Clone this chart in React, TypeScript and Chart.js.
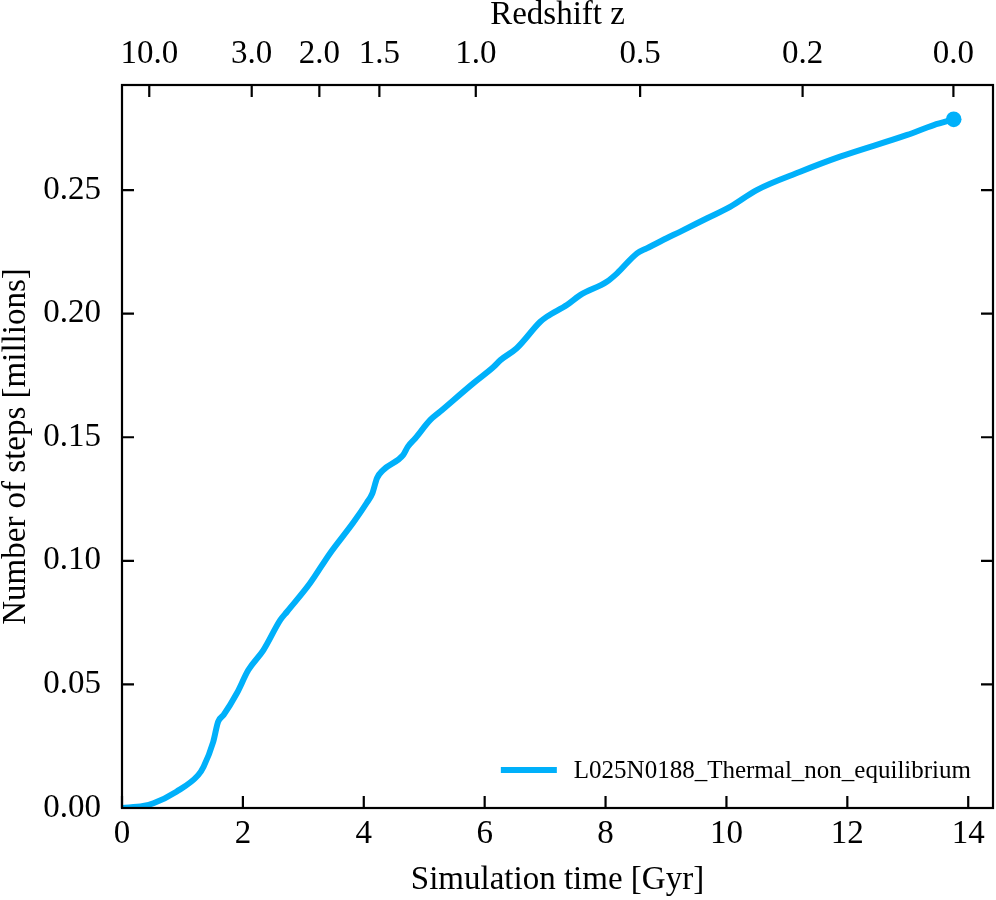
import React, { useEffect, useRef } from "react";
import { Chart, registerables } from "chart.js";

Chart.register(...registerables);

const timeGyr = [0, 0.35, 0.52, 0.9, 1.26, 1.35, 1.51, 1.59, 1.68, 1.9, 2.09, 2.34, 2.62, 2.73, 3.11, 3.44, 3.83, 4.05, 4.14, 4.22, 4.32, 4.65, 4.73, 4.85, 5.1, 5.26, 5.81, 6.15, 6.26, 6.53, 6.92, 7.03, 7.36, 7.58, 8.02, 8.19, 8.52, 8.68, 9.01, 9.23, 9.68, 10.06, 10.5, 11.22, 11.88, 12.99, 13.43, 13.76];
const stepsMillions = [0, 0.0008, 0.0019, 0.0066, 0.0133, 0.0167, 0.0268, 0.0349, 0.0376, 0.0464, 0.0558, 0.0639, 0.0761, 0.0794, 0.0909, 0.103, 0.1156, 0.1235, 0.1272, 0.1335, 0.1367, 0.1428, 0.1462, 0.1495, 0.157, 0.1603, 0.1718, 0.1785, 0.1812, 0.186, 0.1967, 0.1988, 0.2035, 0.2075, 0.2129, 0.2163, 0.2244, 0.2264, 0.2305, 0.2331, 0.2386, 0.2432, 0.25, 0.2574, 0.2635, 0.2723, 0.2763, 0.2786];

const redshiftLabels = ["10.0", "3.0", "2.0", "1.5", "1.0", "0.5", "0.2", "0.0"];
const redshiftAges = [0.451, 2.146, 3.265, 4.258, 5.853, 8.572, 11.26, 13.755];

const seriesLabel = "L025N0188_Thermal_non_equilibrium";
const lineColor = "#00B0FA";
const FONT = "'Liberation Serif', 'Times New Roman', serif";
const FS = 33;

const inwardTicks = {
  id: "inwardTicks",
  afterDatasetsDraw(chart: any) {
    const { ctx, chartArea } = chart;
    const { left, right, top, bottom } = chartArea;
    const len = 12;
    ctx.save();
    ctx.strokeStyle = "#000";
    ctx.lineWidth = 2.2;
    ctx.lineCap = "butt";
    const xs = chart.scales.x;
    xs.ticks.forEach((t: any) => {
      const px = xs.getPixelForValue(t.value);
      ctx.beginPath();
      ctx.moveTo(px, bottom);
      ctx.lineTo(px, bottom - len);
      ctx.stroke();
    });
    const x2 = chart.scales.x2;
    x2.ticks.forEach((t: any) => {
      const px = x2.getPixelForValue(t.value);
      ctx.beginPath();
      ctx.moveTo(px, top);
      ctx.lineTo(px, top + len);
      ctx.stroke();
    });
    const ys = chart.scales.y;
    ys.ticks.forEach((t: any) => {
      const py = ys.getPixelForValue(t.value);
      ctx.beginPath();
      ctx.moveTo(left, py);
      ctx.lineTo(left + len, py);
      ctx.moveTo(right, py);
      ctx.lineTo(right - len, py);
      ctx.stroke();
    });
    ctx.strokeRect(left, top, right - left, bottom - top);
    ctx.restore();
  },
};

const customLegend = {
  id: "customLegend",
  afterDraw(chart: any) {
    const { ctx, chartArea } = chart;
    const ds = chart.data.datasets[0];
    ctx.save();
    ctx.font = `25px ${FONT}`;
    ctx.fillStyle = "#000";
    ctx.textBaseline = "middle";
    const tw = ctx.measureText(ds.label).width;
    const textX = chartArea.right - 22 - tw;
    const y = chartArea.bottom - 37;
    ctx.fillText(ds.label, textX, y);
    ctx.strokeStyle = ds.borderColor;
    ctx.lineWidth = 6;
    ctx.beginPath();
    ctx.moveTo(textX - 73, y - 1);
    ctx.lineTo(textX - 17, y - 1);
    ctx.stroke();
    ctx.restore();
  },
};

const noPadH = (h: number) => (s: any) => {
  s.height = h;
  s.paddingLeft = 0;
  s.paddingRight = 0;
};

export default function App() {
  const ref = useRef<HTMLCanvasElement>(null);
  useEffect(() => {
    if (!ref.current) return;
    const last = timeGyr.length - 1;
    const chart = new Chart(ref.current, {
      type: "line",
      data: {
        datasets: [
          {
            label: seriesLabel,
            data: timeGyr.map((t, i) => ({ x: t, y: stepsMillions[i] })),
            borderColor: lineColor,
            backgroundColor: lineColor,
            borderWidth: 6,
            pointRadius: (c: any) => (c.dataIndex === last ? 7.8 : 0),
            pointHoverRadius: 0,
            pointBorderWidth: 0,
            cubicInterpolationMode: "monotone",
            fill: false,
          },
        ],
      },
      options: {
        animation: false,
        responsive: false,
        events: [],
        layout: { autoPadding: false, padding: { left: 0, right: 3, top: 0, bottom: 0 } },
        plugins: { legend: { display: false }, tooltip: { enabled: false } },
        scales: {
          x: {
            type: "linear",
            position: "bottom",
            min: 0,
            max: 14.41,
            grid: { display: false, drawTicks: false },
            border: { display: false },
            ticks: {
              stepSize: 2,
              includeBounds: false,
              color: "#000",
              font: { family: FONT, size: FS },
              padding: 7,
              maxRotation: 0,
            },
            title: {
              display: true,
              text: "Simulation time [Gyr]",
              color: "#000",
              font: { family: FONT, size: FS },
              padding: 0,
            },
            afterFit: noPadH(92),
          },
          x2: {
            type: "linear",
            position: "top",
            min: 0,
            max: 14.41,
            grid: { display: false, drawTicks: false },
            border: { display: false },
            afterBuildTicks: (s: any) => {
              s.ticks = redshiftAges.map((v) => ({ value: v }));
            },
            ticks: {
              autoSkip: false,
              color: "#000",
              font: { family: FONT, size: FS },
              padding: 11,
              maxRotation: 0,
              callback: (_v: any, i: number) => redshiftLabels[i],
            },
            title: {
              display: true,
              text: "Redshift z",
              color: "#000",
              font: { family: FONT, size: FS },
              padding: { top: -4, bottom: 0 },
            },
            afterFit: noPadH(85),
          },
          y: {
            type: "linear",
            min: 0,
            max: 0.2925,
            grid: { display: false, drawTicks: false },
            border: { display: false },
            ticks: {
              stepSize: 0.05,
              includeBounds: false,
              color: "#000",
              font: { family: FONT, size: FS },
              padding: 21,
              callback: (v: any) => Number(v).toFixed(2),
            },
            title: {
              display: true,
              text: "Number of steps [millions]",
              color: "#000",
              font: { family: FONT, size: FS },
              padding: { top: -3, bottom: 0 },
            },
            afterFit: (s: any) => {
              s.width = 122;
              s.paddingTop = 0;
              s.paddingBottom = 0;
            },
          },
        },
      },
      plugins: [inwardTicks, customLegend],
    } as any);
    return () => chart.destroy();
  }, []);
  return (
    <div style={{ position: "absolute", left: 0, top: 0, width: 996, height: 900, background: "#fff" }}>
      <canvas ref={ref} width={996} height={900} style={{ width: 996, height: 900 }} />
    </div>
  );
}
